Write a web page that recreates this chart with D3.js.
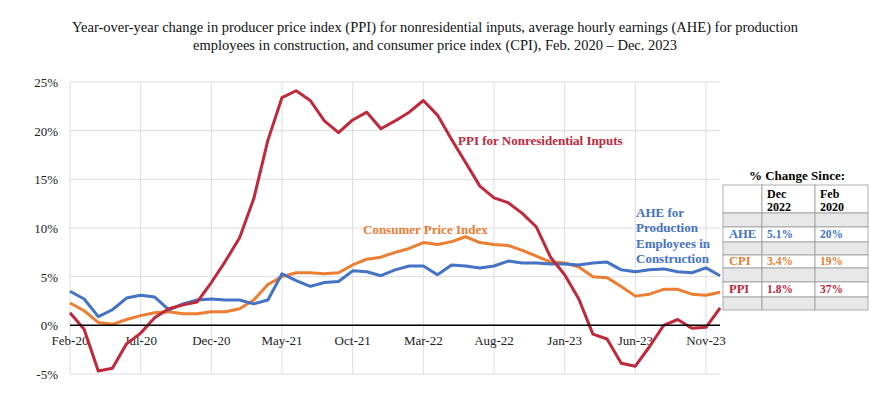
<!DOCTYPE html>
<html><head><meta charset="utf-8">
<script src="https://cdn.jsdelivr.net/npm/d3@7"></script>
<style>body{margin:0;background:#fff}svg{font-family:"Liberation Serif","DejaVu Serif",serif}</style>
</head><body><svg id="c" width="870" height="400"></svg>
<script>
const months = d3.range(47).map(i => new Date(2020, 1 + i, 1));
const tickLabels = ["Feb-20","Jul-20","Dec-20","May-21","Oct-21","Mar-22","Aug-22","Jan-23","Jun-23","Nov-23"];
const yTicks = [-5,0,5,10,15,20,25];
const ppi = [1.3,-0.4,-4.7,-4.4,-1.9,-0.8,0.8,1.7,2.1,2.4,4.4,6.6,9.0,13.0,19.0,23.4,24.1,23.1,21.0,19.8,21.1,21.9,20.2,21.0,21.9,23.1,21.6,19.1,16.7,14.3,13.1,12.6,11.5,10.1,7.0,5.2,2.7,-0.9,-1.4,-3.9,-4.2,-2.2,0.0,0.6,-0.3,-0.2,1.8];
const ahe = [3.5,2.7,0.9,1.6,2.8,3.1,2.9,1.6,2.2,2.6,2.7,2.6,2.6,2.2,2.6,5.3,4.6,4.0,4.4,4.5,5.6,5.5,5.1,5.7,6.1,6.1,5.2,6.2,6.1,5.9,6.1,6.6,6.4,6.4,6.3,6.3,6.2,6.4,6.5,5.7,5.5,5.7,5.8,5.5,5.4,5.9,5.1];
const cpi = [2.3,1.5,0.3,0.1,0.6,1.0,1.3,1.4,1.2,1.2,1.4,1.4,1.7,2.6,4.2,5.0,5.4,5.4,5.3,5.4,6.2,6.8,7.0,7.5,7.9,8.5,8.3,8.6,9.1,8.5,8.3,8.2,7.7,7.1,6.5,6.4,6.0,5.0,4.9,4.0,3.0,3.2,3.7,3.7,3.2,3.1,3.4];
const tableRows = [["AHE","5.1%","20%"],["CPI","3.4%","19%"],["PPI","1.8%","37%"]];
const RED="#C0283C", BLUE="#4472C4", ORANGE="#ED7D31";

const svg = d3.select("#c");
const x = d3.scaleLinear().domain([0,45]).range([70,706]);
const y = d3.scaleLinear().domain([-5,25]).range([374,82]);

svg.append("text").attr("x",435).attr("y",32).attr("text-anchor","middle").attr("font-size",14.5).attr("fill","#111")
  .text("Year-over-year change in producer price index (PPI)  for nonresidential inputs, average hourly earnings (AHE) for production");
svg.append("text").attr("x",435).attr("y",50).attr("text-anchor","middle").attr("font-size",14.5).attr("fill","#111")
  .text("employees in construction, and consumer price index (CPI), Feb. 2020 – Dec. 2023");

// grid
yTicks.forEach(t => svg.append("line").attr("x1",70).attr("x2",720).attr("y1",y(t)).attr("y2",y(t)).attr("stroke","#ddd").attr("stroke-width",1));
tickLabels.forEach((l,i) => svg.append("line").attr("x1",x(i*5)).attr("x2",x(i*5)).attr("y1",y(25)).attr("y2",y(-5)).attr("stroke","#ddd"));
yTicks.forEach(t => svg.append("text").attr("x",58).attr("y",y(t)+5).attr("text-anchor","end").attr("font-size",13).attr("fill","#222").text(t+"%"));
tickLabels.forEach((l,i) => svg.append("text").attr("x",x(i*5)).attr("y",345).attr("text-anchor","middle").attr("font-size",13).attr("fill","#222").text(l));

const line = d3.line().x((d,i)=>x(i)).y(d=>y(d));
[[cpi,ORANGE],[ahe,BLUE],[ppi,RED]].forEach(([d,c]) => svg.append("path").attr("d",line(d)).attr("fill","none").attr("stroke",c).attr("stroke-width",3).attr("stroke-linejoin","round"));
svg.append("line").attr("x1",70).attr("x2",720).attr("y1",y(0)).attr("y2",y(0)).attr("stroke","#000").attr("stroke-width",1.5);

svg.append("text").attr("x",458).attr("y",145).attr("font-size",13).attr("font-weight","bold").attr("fill",RED).text("PPI for Nonresidential Inputs");
svg.append("text").attr("x",363).attr("y",234).attr("font-size",13).attr("font-weight","bold").attr("fill",ORANGE).text("Consumer Price Index");
["AHE for","Production","Employees in","Construction"].forEach((t,i)=>svg.append("text").attr("x",636).attr("y",217+i*15.3).attr("font-size",13).attr("font-weight","bold").attr("fill",BLUE).text(t));

// table
const cols=[723,762,815,868];
svg.append("text").attr("x",797).attr("y",180).attr("text-anchor","middle").attr("font-size",13).attr("font-weight","bold").text("% Change Since:");
const rowsY=[[185,213,"w"],[213,227,"g"],[227,242,"w"],[242,255,"g"],[255,268,"w"],[268,282,"g"],[282,297,"w"],[297,310,"g"]];
rowsY.forEach(([a,b,t])=>{for(let c=0;c<3;c++) svg.append("rect").attr("x",cols[c]).attr("y",a).attr("width",cols[c+1]-cols[c]).attr("height",b-a).attr("fill",t=="g"?"#e8e8e8":"#fff").attr("stroke","#999").attr("stroke-width",0.8);});
[["Dec","2022"],["Feb","2020"]].forEach((h,i)=>{svg.append("text").attr("x",cols[i+1]+5).attr("y",198).attr("font-size",12).attr("font-weight","bold").text(h[0]);svg.append("text").attr("x",cols[i+1]+5).attr("y",211).attr("font-size",12).attr("font-weight","bold").text(h[1]);});
const rc=[BLUE,ORANGE,RED], ry=[238,265,293];
tableRows.forEach((r,i)=>r.forEach((v,j)=>svg.append("text").attr("x",cols[j]+(j==0?6:5)).attr("y",ry[i]).attr("font-size",j==0?12.5:11.5).attr("font-weight","bold").attr("fill",rc[i]).text(v)));
</script></body></html>
